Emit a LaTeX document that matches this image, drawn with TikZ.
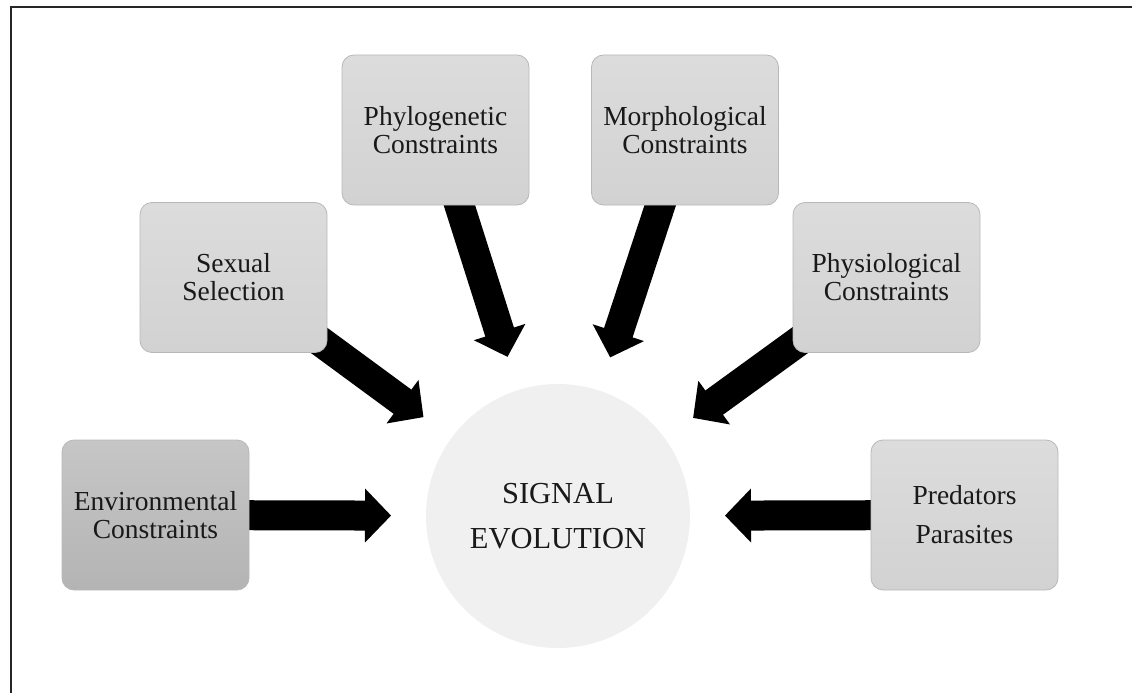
\documentclass[tikz,border=0pt]{standalone}
\usepackage{fontspec}
\setmainfont{Liberation Serif}
\usetikzlibrary{calc,backgrounds}
\definecolor{boxlight}{HTML}{DCDCDC}
\definecolor{boxlightb}{HTML}{D2D2D2}
\definecolor{boxdark}{HTML}{C6C6C6}
\definecolor{boxdarkb}{HTML}{B4B4B4}
\definecolor{boxline}{HTML}{B8B8B8}
\definecolor{circfill}{HTML}{F0F0F0}
\tikzset{
  factorbox/.style={draw=boxline, line width=0.8pt, rounded corners=12pt,
    minimum width=187pt, minimum height=150pt, inner sep=0pt,
    top color=boxlight, bottom color=boxlightb, align=center,
    font=\fontsize{27.5}{28}\selectfont, text=black!90},
  darkbox/.style={factorbox, top color=boxdark, bottom color=boxdarkb},
  hub/.style={circle, fill=circfill, minimum size=264pt, inner sep=0pt,
    align=center, font=\fontsize{30.5}{45}\selectfont, text=black!90},
  shaft/.style={line width=30pt, black},
  head/.style={fill=black},
  frame/.style={line width=2pt, black!85}
}
\newcommand\blockarrow[1]{%
  \coordinate (#1-t) at ($(sig.center)!167pt!(#1.center)$);
  \coordinate (#1-h) at ($(sig.center)!193pt!(#1.center)$);
  \coordinate (#1-s) at ($(sig.center)!191pt!(#1.center)$);
  \draw[shaft] (#1.center) -- (#1-s);
  \fill[head] (#1-t) -- ($(#1-h)!27pt!90:(#1-t)$) -- ($(#1-h)!27pt!-90:(#1-t)$) -- cycle;
}
\begin{document}
\begin{tikzpicture}[x=1pt,y=-1pt]
\useasboundingbox (0,0) rectangle (1132,693);
\draw[frame] (11,693) -- (11,7) -- (1132,7);

\node[hub] (sig) at (558,516) {SIGNAL\\EVOLUTION};
\node[darkbox] (env) at (155.5,515) {Environmental\\Constraints};
\node[factorbox] (sex) at (233.5,277.5) {Sexual\\Selection};
\node[factorbox] (phy) at (435.5,130) {Phylogenetic\\Constraints};
\node[factorbox] (mor) at (685,130) {Morphological\\Constraints};
\node[factorbox] (phs) at (886.5,277.5) {Physiological\\Constraints};
\node[factorbox] (pre) at (964.5,515) {Predators\\[11pt]Parasites};

\begin{scope}[on background layer]
\blockarrow{env}
\blockarrow{sex}
\blockarrow{phy}
\blockarrow{mor}
\blockarrow{phs}
\blockarrow{pre}
\end{scope}
\end{tikzpicture}
\end{document}
